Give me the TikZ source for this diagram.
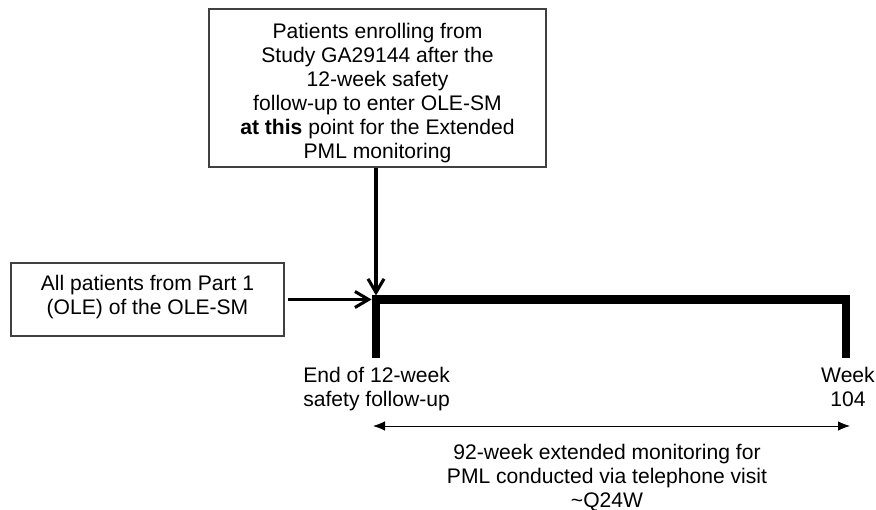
\documentclass[tikz,border=0pt]{standalone}
\usepackage{fontspec}
\setmainfont{Liberation Sans}
\usetikzlibrary{arrows.meta}
\begin{document}
\begin{tikzpicture}[x=0.025cm, y=-0.025cm, font=\fontsize{15}{17}\selectfont,
      box/.style={draw=black!75, line width=0.8pt, inner sep=0pt},
      lbl/.style={align=center, inner sep=0pt},
      flow/.style={-{Straight Barb[length=3.4mm, width=4mm]}, line width=2.2pt},
      bar/.style={line width=0.21cm},
      span/.style={{Latex[length=3mm, width=2.4mm]}-{Latex[length=3mm, width=2.4mm]}, line width=0.7pt}]
    \useasboundingbox (0,0) rectangle (876,510);
    \node[box, minimum width=8.425cm, minimum height=3.95cm] (enroll) at (377.5,88) {};
    \node[lbl] (enrolltxt) at (377.5,93) {Patients enrolling from\\Study GA29144 after the\\12-week safety\\follow-up to enter OLE-SM\\\textbf{at this} point for the Extended\\PML monitoring};
    \node[box, minimum width=6.825cm, minimum height=1.825cm] (partone) at (147.5,299.5) {};
    \node[lbl] (partonetxt) at (147.5,297) {All patients from Part 1\\(OLE) of the OLE-SM};
    \coordinate (start) at (376,299.5);
    \coordinate (startfoot) at (376,358);
    \coordinate (wkend) at (846,299.5);
    \coordinate (wkfoot) at (846,358);
    \draw[bar] (startfoot) -- (start) -- (wkend) -- (wkfoot);
    \draw[flow, shorten >=0.1cm] (enroll.south -| start) -- (start);
    \draw[flow, shorten >=0.11cm] (partone.east) ++(3,0) -- (start);
    \node[lbl, align=left, anchor=north west] (endlbl) at (303,367) {End of 12-week\\safety follow-up};
    \node[lbl, anchor=north] (wklbl) at (848,367) {Week\\104};
    \coordinate (spanL) at (373,426);
    \coordinate (spanR) at (850,426);
    \draw[span] (spanL) -- (spanR);
    \node[lbl, anchor=north] (monlbl) at (607,444) {92-week extended monitoring for\\PML conducted via telephone visit\\\textasciitilde Q24W};
  \end{tikzpicture}
\end{document}
